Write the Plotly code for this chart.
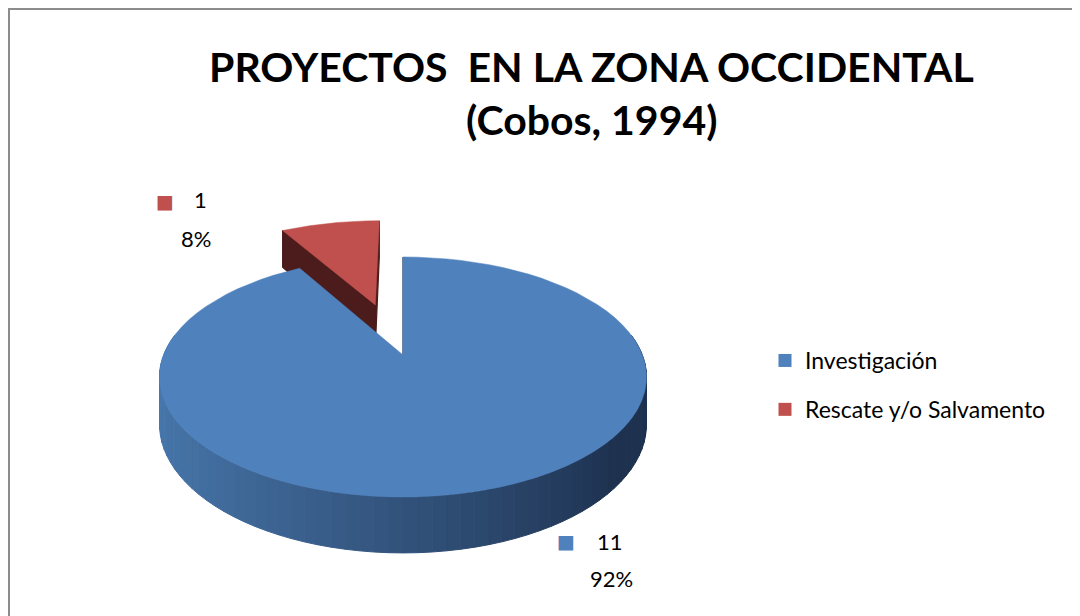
import math
import plotly.graph_objects as go

# ---- data ----
categories = ["Investigación", "Rescate y/o Salvamento"]
values = [11, 1]
title_lines = ["PROYECTOS  EN LA ZONA OCCIDENTAL", "(Cobos, 1994)"]

# ---- style ----
top_colors = ["#4F81BD", "#C0504D"]
face_colors = ["#1F3350", "#4B1C1B"]
side_light = [(72, 119, 172), (118, 44, 42)]
side_dark = [(30, 50, 80), (60, 22, 22)]
explode = [0.0, 0.485]
FONT = "Lato, 'Open Sans', sans-serif"

W, H = 1080, 616
OFF = 8                    # page body margin; axes shifted so data units == page pixels
CX, CY = 403.0, 355.0      # pie centre
RX, RY = 239.4, 116.0      # radii
K = 0.183                  # perspective factor
DEPTH = 45.7               # thickness


def proj(X, D, z):
    s = 1.0 / (1.0 + K * D)
    return CX + X * RX * s, CY - D * RY * s + z * DEPTH * s


def arc(a0, a1, ox, od, z, n=80):
    pts = []
    for i in range(n + 1):
        a = math.radians(a0 + (a1 - a0) * i / n)
        pts.append(proj(ox + math.sin(a), od + math.cos(a), z))
    return pts


def lerp(c0, c1, t):
    return "rgb(%d,%d,%d)" % tuple(round(c0[j] + (c1[j] - c0[j]) * t) for j in range(3))


fig = go.Figure()


def poly(pts, color, lw=1.0, lc=None):
    xs = [p[0] for p in pts] + [pts[0][0]]
    ys = [p[1] for p in pts] + [pts[0][1]]
    fig.add_trace(go.Scatter(x=xs, y=ys, mode="lines", fill="toself", fillcolor=color,
                             line=dict(color=lc or color, width=lw), hoverinfo="skip",
                             showlegend=False))


total = sum(values)
starts = []
acc = 0.0
for v in values:
    starts.append(acc / total * 360.0)
    acc += v
spans = [v / total * 360.0 for v in values]

order = sorted(range(len(values)),
               key=lambda i: -math.cos(math.radians(starts[i] + spans[i] / 2)) - explode[i])

for i in order:
    a0, a1 = starts[i], starts[i] + spans[i]
    mid = math.radians((a0 + a1) / 2)
    ox, od = explode[i] * math.sin(mid), explode[i] * math.cos(mid)
    # radial faces
    for ang, sgn in ((a0, -1), (a1, 1)):
        nd = math.cos(math.radians(ang + sgn * 90))
        if nd <= 1e-6:
            r = math.radians(ang)
            p1 = proj(ox, od, 0)
            p2 = proj(ox + math.sin(r), od + math.cos(r), 0)
            p3 = proj(ox + math.sin(r), od + math.cos(r), 1)
            p4 = proj(ox, od, 1)
            poly([p1, p2, p3, p4], face_colors[i], lw=1.2)
    # outer side (front half), shaded left light -> right dark
    lo, hi = max(a0, 80.0), min(a1, 280.0)
    if hi > lo:
        n = 70
        for k in range(n):
            b0 = lo + (hi - lo) * k / n
            b1 = lo + (hi - lo) * (k + 1) / n
            top = arc(b0, b1, ox, od, 0, 2)
            bot = arc(b1, b0, ox, od, 1, 2)
            xm = math.sin(math.radians((b0 + b1) / 2))
            t = (1 - xm) / 2
            t = min(1.0, max(0.0, (t - 0.12) / 0.88)) ** 0.9
            col = lerp(side_dark[i], side_light[i], t)
            poly(top + bot, col, lw=1.0)
    # top face
    poly([proj(ox, od, 0)] + arc(a0, a1, ox, od, 0), top_colors[i], lw=0.5)

# legend entries
for i, c in enumerate(categories):
    fig.add_trace(go.Scatter(x=[None], y=[None], mode="markers", name=c,
                             legendgroup=str(i),
                             marker=dict(symbol="square", size=13, color=top_colors[i])))

# data labels
label_pos = [((566, 541), (610, 541), (611, 578)), ((165, 201), (200, 199), (196, 238))]
annots = []
for i, v in enumerate(values):
    sq, l1, l2 = label_pos[i]
    pct = round(v / total * 100)
    annots.append(dict(x=sq[0], y=sq[1], text="■", showarrow=False, xref="x", yref="y",
                       font=dict(family="DejaVu Sans", size=19, color=top_colors[i])))
    annots.append(dict(x=l1[0], y=l1[1], text=str(v), showarrow=False, xref="x", yref="y",
                       font=dict(family=FONT, size=22, color="#000000")))
    annots.append(dict(x=l2[0], y=l2[1], text=f"{pct}%", showarrow=False, xref="x", yref="y",
                       font=dict(family=FONT, size=22, color="#000000")))

# title
for t, yy in zip(title_lines, (66, 119)):
    annots.append(dict(x=591, y=yy, text=f"<b>{t}</b>", showarrow=False, xref="x", yref="y",
                       font=dict(family=FONT, size=41, color="#000000")))

fig.update_layout(
    width=W, height=H,
    margin=dict(l=0, r=0, t=0, b=0),
    paper_bgcolor="white", plot_bgcolor="white",
    xaxis=dict(range=[OFF, W + OFF], visible=False, fixedrange=True),
    yaxis=dict(range=[H + OFF, OFF], visible=False, fixedrange=True),
    showlegend=True,
    legend=dict(x=(765 - OFF) / W, y=1 - (339 - OFF) / H, xanchor="left", yanchor="top",
                font=dict(family=FONT, size=23, color="#000000"),
                tracegroupgap=16, bgcolor="rgba(0,0,0,0)"),
    annotations=annots,
    shapes=[dict(type="rect", xref="x", yref="y", x0=9, y0=9, x1=W + 20, y1=H + 20,
                 line=dict(color="#8C8C8C", width=2), fillcolor="rgba(0,0,0,0)", layer="above")],
)

fig.write_html("out.html")
